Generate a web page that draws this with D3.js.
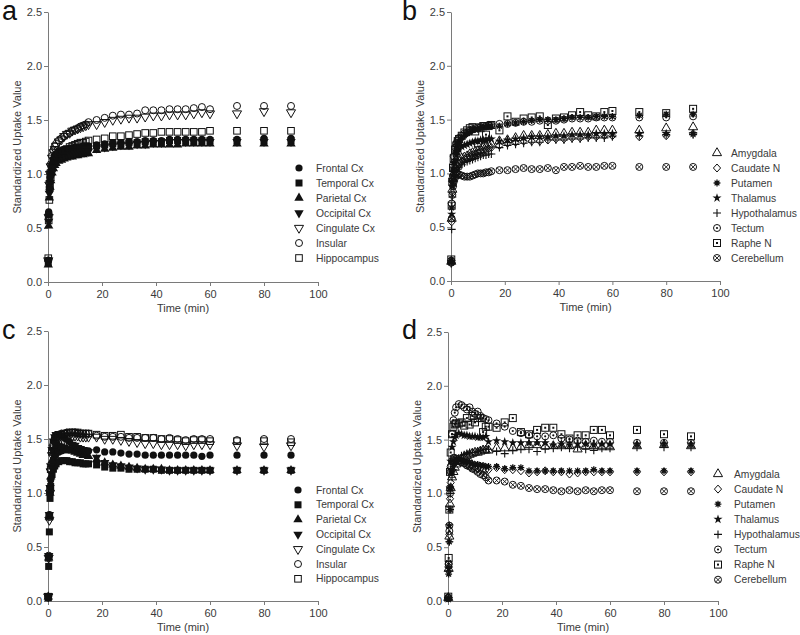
<!DOCTYPE html>
<html><head><meta charset="utf-8">
<script src="https://cdn.jsdelivr.net/npm/d3@7"></script>
<style>
body{margin:0;background:#fff;}
svg{display:block;font-family:Arial,"Liberation Sans",sans-serif;}
</style></head>
<body><svg id="chart" width="800" height="635"></svg>
<script>
// ---------- DATA ----------
const times = [0.1,0.25,0.5,0.75,1,1.5,2,2.5,3,4,5,6,7,8,9,10,11,12,13,14,15,18,21,24,27,30,33,36,39,42,45,48,51,54,57,60,70,80,90];
const xTicks = [0,20,40,60,80,100];
const yTicks = [0,0.5,1.0,1.5,2.0,2.5];
const cortexNames = ["Frontal Cx","Temporal Cx","Parietal Cx","Occipital Cx","Cingulate Cx","Insular","Hippocampus"];
const subNames = ["Amygdala","Caudate N","Putamen","Thalamus","Hypothalamus","Tectum","Raphe N","Cerebellum"];
const cortexMarkers = ["fcircle","fsquare","ftri","ftridown","otridown","ocircle","osquare"];
const subMarkers = ["otri","odiamond","asterisk","star","plus","dotcircle","dotsquare","xcircle"];

// panel a
const frontalA = [0.20,0.65,0.88,0.97,1.02,1.09,1.14,1.17,1.19,1.21,1.22,1.23,1.23,1.24,1.24,1.25,1.25,1.25,1.26,1.26,1.26,1.27,1.28,1.29,1.29,1.30,1.30,1.31,1.31,1.31,1.32,1.32,1.32,1.32,1.32,1.32,1.32,1.33,1.33];
const temporalA = [0.18,0.62,0.86,0.95,1.00,1.07,1.12,1.15,1.17,1.19,1.20,1.21,1.22,1.22,1.23,1.23,1.24,1.24,1.24,1.25,1.25,1.26,1.27,1.28,1.28,1.29,1.29,1.30,1.30,1.30,1.31,1.31,1.31,1.31,1.31,1.31,1.31,1.31,1.31];
const parietalA = [0.16,0.52,0.78,0.88,0.94,1.01,1.05,1.08,1.10,1.12,1.13,1.14,1.15,1.16,1.16,1.17,1.17,1.18,1.18,1.19,1.19,1.22,1.23,1.24,1.25,1.25,1.26,1.26,1.27,1.27,1.27,1.27,1.28,1.28,1.28,1.28,1.28,1.28,1.28];
const occipitalA = [0.19,0.56,0.82,0.92,0.97,1.04,1.08,1.11,1.13,1.15,1.16,1.17,1.18,1.18,1.19,1.19,1.20,1.20,1.21,1.21,1.21,1.24,1.25,1.26,1.27,1.27,1.28,1.28,1.29,1.29,1.30,1.30,1.30,1.30,1.30,1.30,1.30,1.30,1.30];
const cingulateA = [0.20,0.60,0.90,1.00,1.07,1.15,1.20,1.23,1.26,1.30,1.32,1.35,1.37,1.38,1.40,1.41,1.42,1.43,1.44,1.45,1.46,1.46,1.48,1.50,1.51,1.52,1.52,1.53,1.54,1.54,1.55,1.55,1.55,1.56,1.57,1.56,1.56,1.58,1.57];
const insularA = [0.20,0.63,0.92,1.02,1.09,1.17,1.22,1.26,1.28,1.31,1.33,1.35,1.37,1.38,1.40,1.41,1.42,1.44,1.45,1.46,1.48,1.50,1.52,1.54,1.55,1.55,1.56,1.59,1.59,1.59,1.60,1.60,1.60,1.61,1.62,1.60,1.63,1.63,1.63];
const hippoA = [0.22,0.57,0.76,0.88,0.97,1.05,1.10,1.14,1.16,1.19,1.21,1.22,1.23,1.25,1.26,1.27,1.28,1.29,1.29,1.30,1.31,1.32,1.33,1.35,1.35,1.36,1.37,1.38,1.38,1.39,1.39,1.39,1.39,1.39,1.39,1.40,1.40,1.40,1.40];

// panel b
const amygB = [0.18,0.58,0.85,0.95,1.00,1.05,1.08,1.10,1.12,1.14,1.15,1.16,1.18,1.19,1.20,1.21,1.22,1.24,1.25,1.26,1.27,1.30,1.31,1.33,1.35,1.35,1.35,1.36,1.37,1.37,1.38,1.38,1.38,1.40,1.40,1.40,1.40,1.42,1.43];
const caudB = [0.17,0.55,0.82,0.92,0.97,1.02,1.05,1.07,1.09,1.11,1.13,1.14,1.16,1.17,1.18,1.19,1.20,1.21,1.22,1.23,1.24,1.26,1.28,1.29,1.30,1.30,1.30,1.31,1.32,1.32,1.33,1.33,1.34,1.34,1.35,1.35,1.34,1.35,1.37];
const putB = [0.19,0.68,0.92,1.02,1.10,1.20,1.25,1.28,1.30,1.33,1.35,1.37,1.38,1.40,1.41,1.41,1.42,1.43,1.43,1.44,1.44,1.44,1.46,1.47,1.48,1.49,1.50,1.50,1.50,1.51,1.52,1.52,1.52,1.53,1.53,1.53,1.54,1.55,1.55];
const thalB = [0.18,0.62,0.88,0.98,1.04,1.12,1.17,1.20,1.22,1.25,1.26,1.27,1.28,1.29,1.30,1.30,1.31,1.31,1.31,1.32,1.32,1.30,1.31,1.32,1.33,1.34,1.34,1.34,1.35,1.35,1.36,1.36,1.36,1.37,1.37,1.37,1.37,1.37,1.37];
const hypoB = [0.16,0.48,0.78,0.88,0.93,0.98,1.02,1.04,1.06,1.08,1.10,1.11,1.12,1.13,1.14,1.15,1.16,1.17,1.17,1.18,1.18,1.24,1.26,1.27,1.28,1.29,1.29,1.31,1.31,1.31,1.32,1.32,1.33,1.33,1.33,1.34,1.35,1.36,1.36];
const tectB = [0.19,0.72,0.95,1.08,1.16,1.24,1.28,1.31,1.33,1.35,1.37,1.38,1.40,1.41,1.42,1.43,1.43,1.44,1.44,1.45,1.45,1.46,1.46,1.47,1.48,1.48,1.49,1.49,1.49,1.50,1.51,1.51,1.51,1.52,1.52,1.52,1.52,1.52,1.53];
const rapheB = [0.20,0.70,0.92,1.05,1.14,1.22,1.26,1.30,1.32,1.35,1.38,1.40,1.42,1.43,1.39,1.28,1.42,1.44,1.36,1.44,1.45,1.40,1.53,1.48,1.51,1.52,1.53,1.45,1.51,1.52,1.54,1.57,1.54,1.53,1.57,1.58,1.57,1.56,1.60];
const cerebB = [0.17,0.58,0.80,0.88,0.92,0.96,0.98,0.99,0.99,0.98,0.97,0.97,0.97,0.98,0.99,1.00,1.00,1.00,1.01,1.01,1.02,1.03,1.03,1.04,1.05,1.04,1.04,1.05,1.03,1.06,1.06,1.07,1.06,1.06,1.07,1.07,1.06,1.06,1.06];

// panel c
const frontalC = [0.04,0.40,0.80,1.00,1.12,1.25,1.31,1.34,1.36,1.38,1.39,1.40,1.40,1.40,1.40,1.40,1.39,1.39,1.39,1.39,1.39,1.40,1.38,1.38,1.37,1.36,1.36,1.35,1.35,1.35,1.35,1.35,1.35,1.35,1.34,1.35,1.35,1.35,1.35];
const temporalC = [0.03,0.32,0.64,0.95,1.06,1.17,1.22,1.25,1.27,1.29,1.30,1.30,1.30,1.29,1.29,1.28,1.28,1.28,1.27,1.27,1.27,1.26,1.24,1.23,1.23,1.22,1.22,1.22,1.22,1.21,1.21,1.21,1.21,1.21,1.21,1.21,1.21,1.21,1.21];
const parietalC = [0.04,0.40,0.78,1.00,1.15,1.30,1.38,1.42,1.44,1.44,1.43,1.42,1.41,1.40,1.39,1.38,1.37,1.36,1.35,1.35,1.34,1.31,1.28,1.26,1.25,1.24,1.23,1.22,1.22,1.22,1.21,1.21,1.21,1.21,1.21,1.21,1.21,1.21,1.21];
const occipitalC = [0.05,0.42,0.80,1.05,1.25,1.40,1.48,1.52,1.54,1.55,1.53,1.51,1.49,1.47,1.45,1.44,1.42,1.41,1.40,1.39,1.38,1.33,1.28,1.26,1.25,1.24,1.23,1.22,1.22,1.22,1.21,1.21,1.21,1.21,1.21,1.21,1.21,1.21,1.21];
const cingulateC = [0.04,0.40,0.75,1.00,1.20,1.35,1.42,1.46,1.49,1.51,1.52,1.53,1.53,1.53,1.53,1.53,1.53,1.52,1.52,1.52,1.52,1.52,1.50,1.50,1.49,1.48,1.47,1.46,1.46,1.45,1.45,1.45,1.44,1.45,1.45,1.45,1.44,1.43,1.44];
const insularC = [0.04,0.42,0.78,1.02,1.22,1.38,1.45,1.49,1.52,1.54,1.55,1.55,1.56,1.56,1.56,1.56,1.55,1.55,1.55,1.55,1.55,1.53,1.52,1.52,1.52,1.51,1.51,1.51,1.51,1.50,1.51,1.50,1.49,1.50,1.50,1.50,1.49,1.50,1.50];
const hippoC = [0.04,0.40,0.78,1.03,1.22,1.38,1.45,1.49,1.52,1.53,1.54,1.55,1.55,1.56,1.56,1.56,1.56,1.55,1.55,1.55,1.55,1.54,1.53,1.53,1.54,1.52,1.52,1.51,1.51,1.50,1.50,1.49,1.48,1.49,1.49,1.48,1.48,1.48,1.47];

// panel d
const amygD = [0.03,0.30,0.60,0.90,1.05,1.15,1.20,1.24,1.27,1.30,1.32,1.34,1.35,1.36,1.37,1.38,1.38,1.39,1.40,1.40,1.40,1.42,1.42,1.42,1.43,1.45,1.45,1.44,1.44,1.44,1.44,1.41,1.44,1.44,1.43,1.43,1.44,1.45,1.44];
const caudD = [0.03,0.32,0.62,0.95,1.10,1.22,1.27,1.29,1.30,1.30,1.29,1.28,1.27,1.26,1.25,1.24,1.23,1.23,1.22,1.22,1.22,1.24,1.22,1.22,1.21,1.19,1.20,1.21,1.20,1.20,1.18,1.19,1.20,1.20,1.20,1.20,1.20,1.20,1.20];
const putD = [0.02,0.25,0.55,0.85,1.05,1.20,1.27,1.30,1.31,1.32,1.31,1.30,1.29,1.29,1.28,1.27,1.27,1.26,1.26,1.25,1.25,1.25,1.23,1.24,1.24,1.21,1.21,1.21,1.21,1.21,1.21,1.21,1.21,1.22,1.21,1.21,1.21,1.21,1.21];
const thalD = [0.02,0.30,0.70,1.05,1.30,1.43,1.48,1.52,1.54,1.56,1.55,1.54,1.54,1.53,1.53,1.53,1.52,1.52,1.52,1.53,1.48,1.49,1.48,1.47,1.47,1.47,1.47,1.47,1.45,1.46,1.45,1.46,1.46,1.45,1.46,1.46,1.46,1.46,1.46];
const hypoD = [0.03,0.28,0.55,0.85,1.00,1.15,1.22,1.27,1.31,1.33,1.35,1.36,1.37,1.38,1.38,1.38,1.39,1.40,1.41,1.41,1.41,1.39,1.37,1.40,1.41,1.41,1.39,1.41,1.42,1.43,1.42,1.43,1.41,1.40,1.42,1.42,1.43,1.43,1.43];
const tectD = [0.03,0.35,0.65,1.00,1.25,1.55,1.68,1.75,1.80,1.83,1.82,1.80,1.78,1.80,1.76,1.74,1.76,1.72,1.70,1.69,1.68,1.65,1.62,1.58,1.56,1.54,1.53,1.53,1.54,1.51,1.50,1.49,1.48,1.49,1.48,1.48,1.47,1.47,1.47];
const rapheD = [0.04,0.40,0.85,1.20,1.38,1.55,1.62,1.64,1.65,1.65,1.66,1.63,1.70,1.64,1.72,1.66,1.70,1.70,1.57,1.62,1.62,1.61,1.66,1.70,1.57,1.55,1.59,1.61,1.61,1.55,1.51,1.54,1.54,1.59,1.59,1.54,1.59,1.55,1.53];
const cerebD = [0.03,0.34,0.70,1.05,1.20,1.30,1.33,1.33,1.32,1.30,1.29,1.28,1.26,1.25,1.23,1.22,1.20,1.18,1.17,1.15,1.12,1.12,1.11,1.08,1.07,1.05,1.04,1.04,1.03,1.02,1.03,1.02,1.03,1.02,1.03,1.03,1.02,1.02,1.02];

// ---------- LAYOUT ----------
const panels = [
  {letter:"a", lx:2, ly:20, x0:48, x1:318, yb:282, yt:12, names:cortexNames, markers:cortexMarkers,
   series:[frontalA,temporalA,parietalA,occipitalA,cingulateA,insularA,hippoA], legMX:299, legTX:316, legY0:168, legDY:15},
  {letter:"b", lx:402, ly:20, x0:451, x1:720, yb:281, yt:12, names:subNames, markers:subMarkers,
   series:[amygB,caudB,putB,thalB,hypoB,tectB,rapheB,cerebB], legMX:717, legTX:731, legY0:153, legDY:15},
  {letter:"c", lx:2, ly:339, x0:48, x1:318, yb:601, yt:331, names:cortexNames, markers:cortexMarkers,
   series:[frontalC,temporalC,parietalC,occipitalC,cingulateC,insularC,hippoC], legMX:298, legTX:316, legY0:490, legDY:14.8},
  {letter:"d", lx:402, ly:339, x0:448, x1:718, yb:601, yt:332, names:subNames, markers:subMarkers,
   series:[amygD,caudD,putD,thalD,hypoD,tectD,rapheD,cerebD], legMX:718, legTX:734, legY0:474, legDY:15.1}
];

const svg = d3.select("#chart");
const INK = "#111";
const AX = "#7a7a7a";
const TXT = "#3a3a3a";

function drawMarker(g, type){
  const sym = (t,s) => d3.symbol().type(t).size(s)();
  switch(type){
    case "fcircle": g.append("circle").attr("r",3.6).attr("fill",INK); break;
    case "fsquare": g.append("rect").attr("x",-3.5).attr("y",-3.5).attr("width",7).attr("height",7).attr("fill",INK); break;
    case "ftri": g.append("path").attr("d",sym(d3.symbolTriangle,38)).attr("fill",INK); break;
    case "ftridown": g.append("path").attr("d",sym(d3.symbolTriangle,38)).attr("transform","rotate(180)").attr("fill",INK); break;
    case "otridown": g.append("path").attr("d",sym(d3.symbolTriangle,36)).attr("transform","rotate(180)").attr("fill","none").attr("stroke",INK); break;
    case "otri": g.append("path").attr("d",sym(d3.symbolTriangle,36)).attr("fill","none").attr("stroke",INK); break;
    case "ocircle": g.append("circle").attr("r",3.5).attr("fill","none").attr("stroke",INK); break;
    case "osquare": g.append("rect").attr("x",-3.3).attr("y",-3.3).attr("width",6.6).attr("height",6.6).attr("fill","none").attr("stroke",INK); break;
    case "odiamond": g.append("path").attr("d","M0,-4L3.6,0L0,4L-3.6,0Z").attr("fill","none").attr("stroke",INK); break;
    case "asterisk": {
      const r=3.4, d=r*Math.SQRT1_2;
      g.append("path").attr("d",`M${-r},0L${r},0M0,${-r}L0,${r}M${-d},${-d}L${d},${d}M${-d},${d}L${d},${-d}`)
        .attr("stroke",INK).attr("stroke-width",1.3);
      g.append("circle").attr("r",1.4).attr("fill",INK);
      break; }
    case "star": g.append("path").attr("d",sym(d3.symbolStar,26)).attr("fill",INK); break;
    case "plus": g.append("path").attr("d","M-4,0L4,0M0,-4L0,4").attr("stroke",INK).attr("stroke-width",1.1); break;
    case "dotcircle":
      g.append("circle").attr("r",3.5).attr("fill","none").attr("stroke",INK);
      g.append("circle").attr("r",1.1).attr("fill",INK); break;
    case "dotsquare":
      g.append("rect").attr("x",-3.5).attr("y",-3.5).attr("width",7).attr("height",7).attr("fill","none").attr("stroke",INK);
      g.append("rect").attr("x",-1).attr("y",-1).attr("width",2).attr("height",2).attr("fill",INK); break;
    case "xcircle":
      g.append("circle").attr("r",3.5).attr("fill","none").attr("stroke",INK);
      g.append("path").attr("d","M-2.4,-2.4L2.4,2.4M-2.4,2.4L2.4,-2.4").attr("stroke",INK).attr("stroke-width",0.9); break;
  }
}

panels.forEach(p => {
  const x = d3.scaleLinear().domain([0,100]).range([p.x0,p.x1]);
  const y = d3.scaleLinear().domain([0,2.5]).range([p.yb,p.yt]);
  const G = svg.append("g");

  // panel letter
  G.append("text").attr("x",p.lx).attr("y",p.ly).attr("font-size",27).attr("fill","#111").text(p.letter);

  // axes
  const ya = G.append("g").attr("transform",`translate(${p.x0},0)`)
    .call(d3.axisLeft(y).tickValues(yTicks).tickFormat(d3.format(".1f")).tickSize(4).tickSizeOuter(0).tickPadding(2));
  const xa = G.append("g").attr("transform",`translate(0,${p.yb})`)
    .call(d3.axisBottom(x).tickValues(xTicks).tickFormat(d3.format("d")).tickSize(4).tickSizeOuter(0).tickPadding(4));
  [ya,xa].forEach(a => {
    a.select(".domain").attr("stroke",AX);
    a.selectAll(".tick line").attr("stroke",AX);
    a.selectAll(".tick text").attr("fill",TXT).attr("font-size",11).attr("font-family","Arial,'Liberation Sans',sans-serif");
  });

  // axis titles
  G.append("text").attr("transform",`translate(${p.x0-27},${(p.yb+p.yt)/2}) rotate(-90)`)
    .attr("text-anchor","middle").attr("font-size",11).attr("fill",TXT).text("Standardized Uptake Value");
  G.append("text").attr("x",(p.x0+p.x1)/2).attr("y",p.yb+30)
    .attr("text-anchor","middle").attr("font-size",11).attr("fill",TXT).text("Time (min)");

  // data markers
  p.series.forEach((vals,si) => {
    const pts = times.map((t,i) => ({t, v: vals[i]}));
    G.append("g").selectAll("g").data(pts).join("g")
      .attr("transform", d => `translate(${x(d.t)},${y(d.v)})`)
      .each(function(){ drawMarker(d3.select(this), p.markers[si]); });
  });

  // legend
  p.names.forEach((name,i) => {
    const yy = p.legY0 + i*p.legDY;
    drawMarker(G.append("g").attr("transform",`translate(${p.legMX},${yy})`), p.markers[i]);
    G.append("text").attr("x",p.legTX).attr("y",yy).attr("dy","0.35em")
      .attr("font-size",10.3).attr("fill",TXT).text(name);
  });
});
</script></body></html>
